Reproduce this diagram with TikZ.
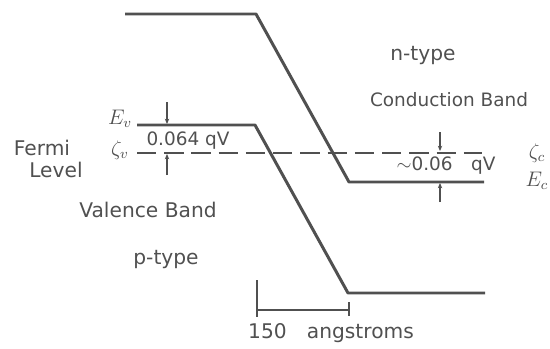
\documentclass[tikz,border=0pt]{standalone}
\usepackage{fontspec}
\usepackage{tikz}
\usetikzlibrary{arrows.meta}
\newfontfamily\hand{DejaVu Sans}
\definecolor{ink}{HTML}{505050}

\begin{document}
\begin{tikzpicture}[
  x=0.02cm,y=-0.02cm,
  band/.style={line width=1.7pt,draw=ink,line join=round},
  fermi/.style={line width=1.1pt,draw=ink,dash pattern=on 11pt off 4.5pt},
  gap/.style={line width=0.9pt,draw=ink,-{Stealth[length=3pt,width=2.5pt]}},
  scalebar/.style={line width=1pt,draw=ink},
  lbl/.style={text=ink,font=\hand\fontsize{11.5}{13}\selectfont,inner sep=1pt},
  small/.style={text=ink,font=\hand\fontsize{10.5}{12}\selectfont,inner sep=1pt},
  sym/.style={text=ink,font=\large,inner sep=1pt}
]
\useasboundingbox (0,0) rectangle (550,348);
% band edges
\coordinate (cb0) at (125,14);
\coordinate (cb1) at (256,14);
\coordinate (cb2) at (349,182);
\coordinate (cb3) at (484,182);
\coordinate (vb0) at (137,125);
\coordinate (vb1) at (255,125);
\coordinate (vb2) at (348,293);
\coordinate (vb3) at (485,293);
\coordinate (fl0) at (137,153);
\coordinate (fl1) at (482,153);
\draw[band] (cb0) -- (cb1) -- (cb2) -- (cb3);
\draw[band] (vb0) -- (vb1) -- (vb2) -- (vb3);
\draw[fermi] (fl0) -- (fl1);
% gap markers
\draw[gap] (167,102) -- (167,124);
\draw[gap] (167,175) -- (167,154);
\draw[gap] (440,132) -- (440,151);
\draw[gap] (440,202) -- (440,183);
% scale
\draw[scalebar] (257,280) -- (257,317);
\draw[scalebar] (257,310) -- (349,310);
\draw[scalebar] (349,302) -- (349,316);
% labels
\node[lbl] (fermi) at (42,148) {Fermi};
\node[lbl] (level) at (56,170) {Level};
\node[sym] (ev) at (120,119) {$E_v$};
\node[sym] (zv) at (120,150) {$\zeta_v$};
\node[small] (dv) at (188,141) {0.064 qV};
\node[lbl] (valence) at (148,210) {Valence Band};
\node[lbl] (ptype) at (166,260) {p-type};
\node[lbl] (ntype) at (423,56) {n-type};
\node[small] (cband) at (449,100) {Conduction Band};
\node[small] (dc) at (446,166) {$\sim$0.06\quad qV};
\node[sym] (zc) at (537,153) {$\zeta_c$};
\node[sym] (ec) at (537,181) {$E_c$};
\node[lbl] (scale) at (331,333) {150\quad angstroms};
\end{tikzpicture}
\end{document}
